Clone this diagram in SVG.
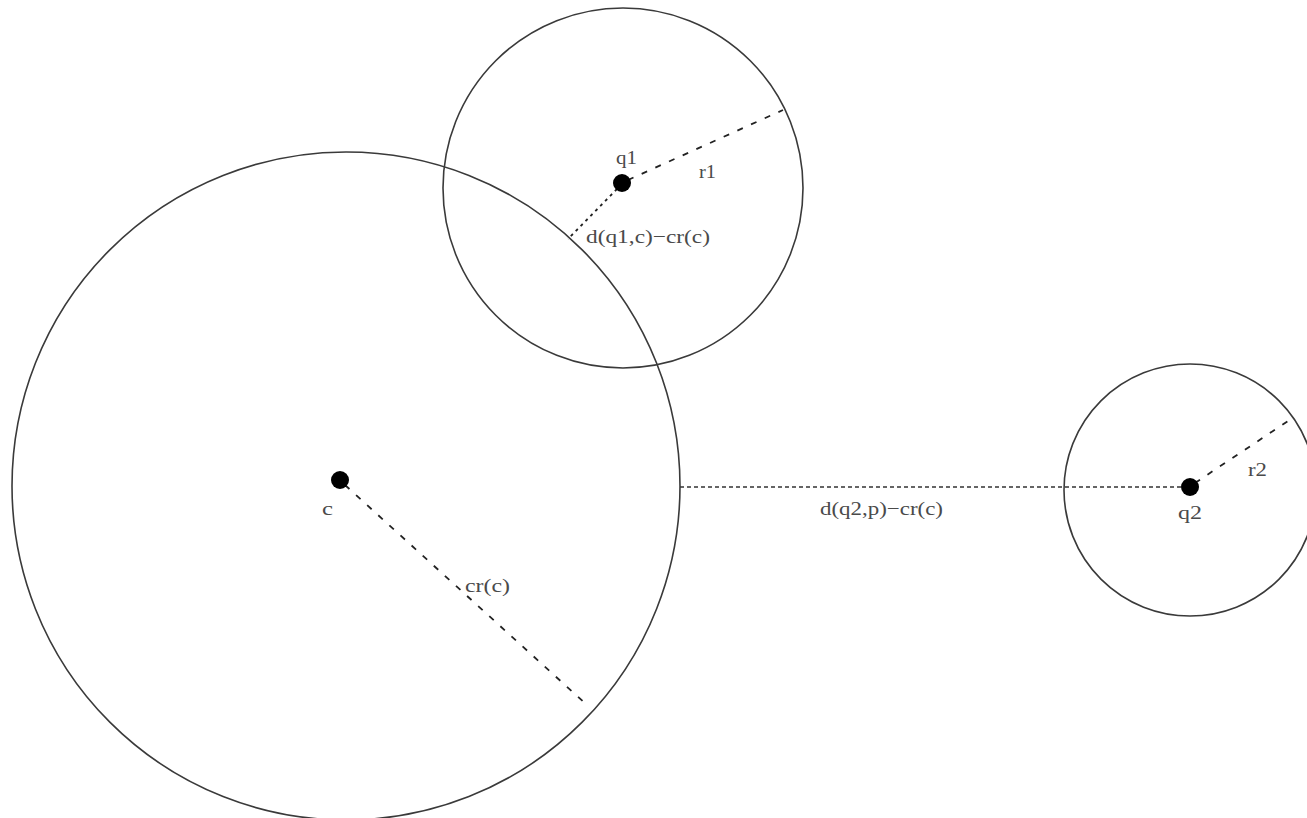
<svg xmlns="http://www.w3.org/2000/svg" width="1307" height="818" viewBox="0 0 1307 818">
<style>
.circ{fill:none;stroke:#3a3a3a;stroke-width:1.6}
.dot{fill:#000}
.dash{stroke:#222;stroke-width:1.8;fill:none;stroke-dasharray:6 9}
.dotl{stroke:#222;stroke-width:1.8;fill:none;stroke-dasharray:3 4}
.hdot{stroke:#333;stroke-width:1.4;fill:none;stroke-dasharray:4 3}
text{font-family:"Liberation Serif","Times New Roman",serif;font-size:19px;fill:#4a4a4a}
</style>
<rect width="1307" height="818" fill="#fff"/>
<g id="connectors">
<line class="dash" x1="345" y1="485" x2="587" y2="705"/>
<line class="dash" x1="628" y1="180" x2="783" y2="110"/>
<line class="dotl" x1="617" y1="189" x2="568" y2="239"/>
<line class="hdot" x1="680" y1="487" x2="1183" y2="487"/>
<line class="dash" x1="1195" y1="483" x2="1294" y2="417"/>
</g>
<g id="node-c">
<circle class="circ" cx="346" cy="486" r="334"/>
<circle class="dot" cx="340" cy="480" r="9"/>
<text x="322" y="515" textLength="11" lengthAdjust="spacingAndGlyphs">c</text>
</g>
<g id="node-q1">
<circle class="circ" cx="623" cy="188" r="180"/>
<circle class="dot" cx="622" cy="183" r="9"/>
<text x="616" y="164" textLength="21" lengthAdjust="spacingAndGlyphs">q1</text>
</g>
<g id="node-q2">
<circle class="circ" cx="1190" cy="490" r="126"/>
<circle class="dot" cx="1190" cy="487" r="9"/>
<text x="1178" y="519" textLength="24" lengthAdjust="spacingAndGlyphs">q2</text>
</g>
<g id="labels">
<text x="699" y="178" textLength="17" lengthAdjust="spacingAndGlyphs">r1</text>
<text x="586" y="243" textLength="124" lengthAdjust="spacingAndGlyphs">d(q1,c)−cr(c)</text>
<text x="465" y="592" textLength="45" lengthAdjust="spacingAndGlyphs">cr(c)</text>
<text x="820" y="515" textLength="123" lengthAdjust="spacingAndGlyphs">d(q2,p)−cr(c)</text>
<text x="1248" y="476" textLength="19" lengthAdjust="spacingAndGlyphs">r2</text>
</g>
</svg>
